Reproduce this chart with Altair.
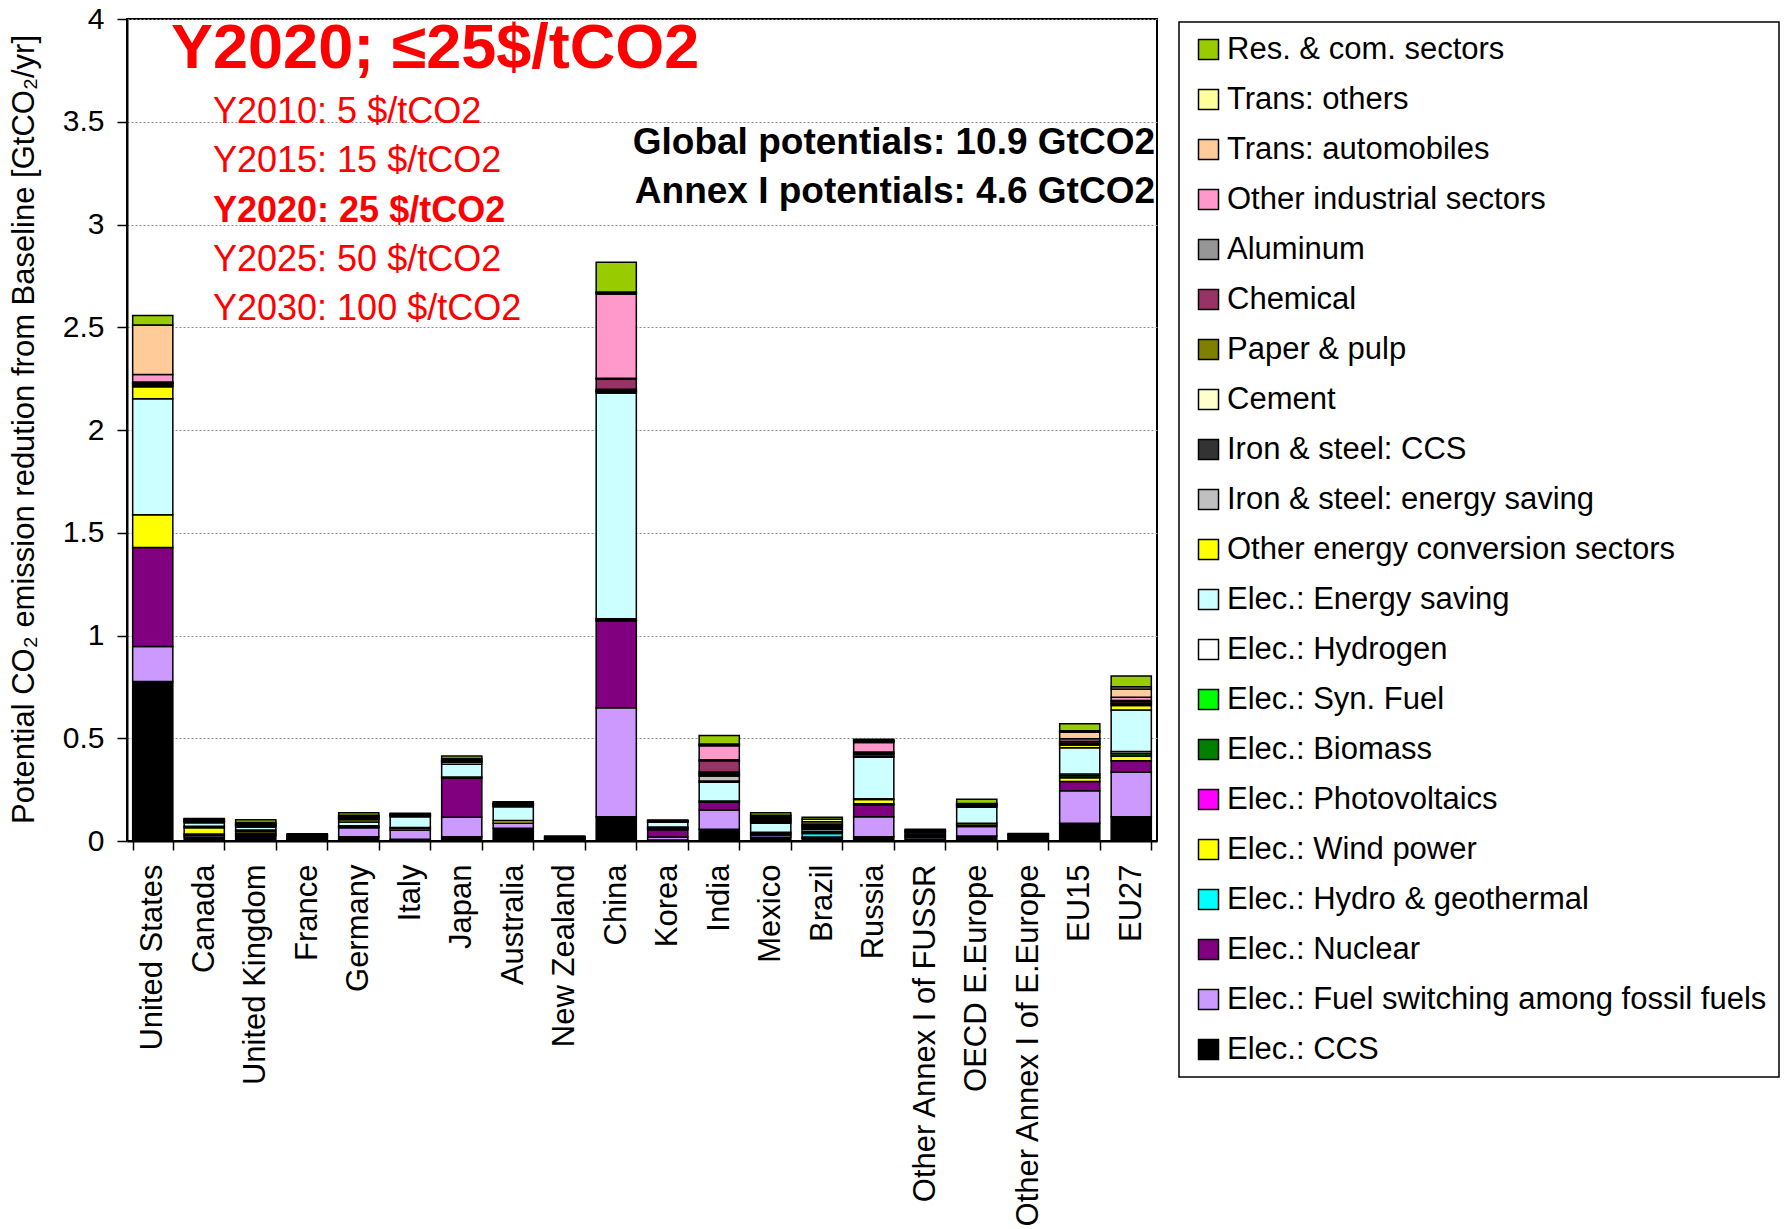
import altair as alt
import pandas as pd

# Regions along the x axis
REGIONS = [
    "United States", "Canada", "United Kingdom", "France", "Germany", "Italy",
    "Japan", "Australia", "New Zealand", "China", "Korea", "India", "Mexico",
    "Brazil", "Russia", "Other Annex I of FUSSR", "OECD E.Europe",
    "Other Annex I of E.Europe", "EU15", "EU27",
]

# Reduction potential per sector [GtCO2/yr], one value per region
elec_ccs       = [0.776, 0.020, 0.025, 0.008, 0.021, 0.008, 0.021, 0.062, 0.005, 0.118, 0.005, 0.057, 0.018, 0.012, 0.021, 0.010, 0.024, 0.008, 0.086, 0.118]
elec_fuel_sw   = [0.171, 0.008, 0.006, 0.003, 0.044, 0.046, 0.094, 0.024, 0.003, 0.531, 0.014, 0.094, 0.011, 0.004, 0.097, 0.008, 0.046, 0.005, 0.159, 0.216]
elec_nuclear   = [0.481, 0.006, 0.008, 0.004, 0.004, 0.000, 0.190, 0.000, 0.000, 0.422, 0.036, 0.037, 0.006, 0.004, 0.058, 0.005, 0.008, 0.003, 0.044, 0.056]
elec_hydro     = [0.000, 0.000, 0.000, 0.000, 0.000, 0.000, 0.000, 0.000, 0.000, 0.005, 0.000, 0.000, 0.000, 0.017, 0.005, 0.004, 0.000, 0.000, 0.000, 0.000]
elec_wind      = [0.159, 0.031, 0.008, 0.003, 0.005, 0.008, 0.006, 0.014, 0.003, 0.005, 0.004, 0.007, 0.007, 0.004, 0.021, 0.004, 0.008, 0.003, 0.019, 0.024]
elec_pv        = [0.000, 0.000, 0.000, 0.000, 0.000, 0.004, 0.000, 0.000, 0.000, 0.000, 0.000, 0.000, 0.000, 0.000, 0.000, 0.000, 0.000, 0.000, 0.000, 0.000]
elec_biomass   = [0.000, 0.004, 0.006, 0.000, 0.000, 0.000, 0.000, 0.000, 0.000, 0.000, 0.005, 0.000, 0.000, 0.006, 0.004, 0.000, 0.000, 0.000, 0.010, 0.012]
elec_synfuel   = [0.000] * 20
elec_hydrogen  = [0.000, 0.003, 0.000, 0.000, 0.000, 0.000, 0.000, 0.000, 0.000, 0.000, 0.004, 0.000, 0.000, 0.000, 0.000, 0.000, 0.000, 0.000, 0.008, 0.009]
elec_saving    = [0.565, 0.017, 0.015, 0.005, 0.019, 0.052, 0.062, 0.067, 0.004, 1.099, 0.023, 0.091, 0.044, 0.010, 0.201, 0.008, 0.078, 0.006, 0.128, 0.203]
other_energy   = [0.058, 0.005, 0.006, 0.002, 0.011, 0.005, 0.010, 0.006, 0.002, 0.006, 0.003, 0.006, 0.008, 0.006, 0.006, 0.003, 0.006, 0.002, 0.013, 0.021]
iron_saving    = [0.005, 0.002, 0.002, 0.000, 0.003, 0.000, 0.004, 0.003, 0.000, 0.004, 0.002, 0.024, 0.006, 0.006, 0.008, 0.004, 0.004, 0.003, 0.006, 0.008]
iron_ccs       = [0.008, 0.000, 0.000, 0.000, 0.000, 0.000, 0.000, 0.000, 0.000, 0.000, 0.000, 0.006, 0.000, 0.000, 0.000, 0.000, 0.000, 0.000, 0.000, 0.000]
cement         = [0.005, 0.000, 0.000, 0.000, 0.002, 0.000, 0.000, 0.000, 0.000, 0.002, 0.000, 0.008, 0.004, 0.005, 0.000, 0.000, 0.000, 0.000, 0.004, 0.004]
paper_pulp     = [0.002, 0.000, 0.000, 0.000, 0.000, 0.000, 0.000, 0.000, 0.000, 0.006, 0.000, 0.006, 0.000, 0.000, 0.000, 0.000, 0.000, 0.000, 0.000, 0.000]
chemical       = [0.003, 0.002, 0.003, 0.000, 0.004, 0.003, 0.004, 0.000, 0.000, 0.050, 0.002, 0.054, 0.004, 0.004, 0.006, 0.000, 0.003, 0.000, 0.008, 0.009]
aluminum       = [0.000, 0.000, 0.000, 0.000, 0.000, 0.000, 0.000, 0.000, 0.000, 0.004, 0.000, 0.005, 0.000, 0.000, 0.006, 0.000, 0.000, 0.000, 0.000, 0.004]
other_industry = [0.037, 0.004, 0.004, 0.003, 0.004, 0.003, 0.005, 0.004, 0.002, 0.410, 0.002, 0.069, 0.006, 0.005, 0.046, 0.004, 0.003, 0.002, 0.012, 0.016]
trans_auto     = [0.241, 0.003, 0.004, 0.003, 0.005, 0.003, 0.006, 0.004, 0.002, 0.006, 0.000, 0.004, 0.008, 0.011, 0.006, 0.003, 0.003, 0.002, 0.032, 0.040]
trans_other    = [0.000, 0.002, 0.003, 0.000, 0.003, 0.000, 0.000, 0.000, 0.000, 0.004, 0.000, 0.004, 0.003, 0.012, 0.005, 0.000, 0.000, 0.000, 0.008, 0.011]
res_com        = [0.046, 0.003, 0.014, 0.004, 0.013, 0.003, 0.012, 0.007, 0.003, 0.144, 0.002, 0.041, 0.013, 0.009, 0.005, 0.004, 0.020, 0.003, 0.033, 0.052]

# Sectors from the bottom of each stack to the top, with their fill colours
STACK = [
    ("Elec.: CCS", "#000000", elec_ccs),
    ("Elec.: Fuel switching among fossil fuels", "#CC99FF", elec_fuel_sw),
    ("Elec.: Nuclear", "#800080", elec_nuclear),
    ("Elec.: Hydro & geothermal", "#00FFFF", elec_hydro),
    ("Elec.: Wind power", "#FFFF00", elec_wind),
    ("Elec.: Photovoltaics", "#FF00FF", elec_pv),
    ("Elec.: Biomass", "#008000", elec_biomass),
    ("Elec.: Syn. Fuel", "#00FF00", elec_synfuel),
    ("Elec.: Hydrogen", "#FFFFFF", elec_hydrogen),
    ("Elec.: Energy saving", "#CCFFFF", elec_saving),
    ("Other energy conversion sectors", "#FFFF00", other_energy),
    ("Iron & steel: energy saving", "#C0C0C0", iron_saving),
    ("Iron & steel: CCS", "#333333", iron_ccs),
    ("Cement", "#FFFFCC", cement),
    ("Paper & pulp", "#808000", paper_pulp),
    ("Chemical", "#993366", chemical),
    ("Aluminum", "#969696", aluminum),
    ("Other industrial sectors", "#FF99CC", other_industry),
    ("Trans: automobiles", "#FFCC99", trans_auto),
    ("Trans: others", "#FFFF99", trans_other),
    ("Res. & com. sectors", "#99CC00", res_com),
]

HEADLINE = "Y2020; \u226425$/tCO2"
PRICE_PATH = [
    "Y2010: 5 $/tCO2",
    "Y2015: 15 $/tCO2",
    "Y2020: 25 $/tCO2",
    "Y2025: 50 $/tCO2",
    "Y2030: 100 $/tCO2",
]
TOTALS = [
    "Global potentials: 10.9 GtCO2",
    "Annex I potentials: 4.6 GtCO2",
]
Y_TITLE = "Potential CO\u2082 emission redution from Baseline [GtCO\u2082/yr]"

FONT = "Liberation Sans"

rows = []
for pos, (sector, _, vals) in enumerate(STACK):
    for region, v in zip(REGIONS, vals):
        if v > 0:
            rows.append({"region": region, "sector": sector, "value": v, "stack_pos": pos})
df = pd.DataFrame(rows)

legend_domain = [s for s, _, _ in STACK][::-1]
legend_range = [c for _, c, _ in STACK][::-1]

bars = alt.Chart(df).mark_bar(stroke="black", strokeWidth=1.5).encode(
    x=alt.X(
        "region:N",
        sort=REGIONS,
        scale=alt.Scale(paddingInner=0.22, paddingOuter=0.11),
        axis=alt.Axis(
            title=None, labelAngle=270, labelAlign="right", labelBaseline="middle",
            labelFontSize=31, labelFont=FONT, labelColor="black", labelPadding=14,
            labelLimit=800, labelOverlap=False, tickBand="extent", tickSize=9,
            tickColor="black", tickWidth=1.5, domainColor="black", domainWidth=2,
        ),
    ),
    y=alt.Y(
        "value:Q",
        stack="zero",
        scale=alt.Scale(domain=[0, 4], nice=False),
        axis=alt.Axis(
            values=[0, 0.5, 1, 1.5, 2, 2.5, 3, 3.5, 4], format="~g",
            labelFontSize=30, labelFont=FONT, labelColor="black", labelPadding=13,
            labelOverlap=False, tickSize=10, tickColor="black", tickWidth=1.5,
            domainColor="black", domainWidth=2, grid=True, gridColor="#8c8c8c",
            gridDash=[2, 2], gridWidth=1, title=Y_TITLE, titleFont=FONT,
            titleFontSize=31, titleFontWeight="normal", titleColor="black",
            titleAngle=270, titleX=-103, titleY=410, titleAlign="center",
            titleBaseline="middle",
        ),
    ),
    color=alt.Color(
        "sector:N",
        scale=alt.Scale(domain=legend_domain, range=legend_range),
        legend=alt.Legend(
            orient="none", legendX=1052, legendY=3, title=None,
            symbolType="square", symbolSize=400, symbolStrokeColor="black",
            symbolStrokeWidth=1.5, symbolOpacity=1, labelFontSize=31,
            labelFont=FONT, labelColor="black", labelLimit=800, padding=12,
            symbolOffset=2, labelOffset=3, rowPadding=18, strokeColor="black",
            fillColor="white",
        ),
    ),
    order=alt.Order("stack_pos:Q", sort="ascending"),
)

def note(text, x, y, size, bold=False, color="black", align="left"):
    return alt.Chart(pd.DataFrame({"note": [text]})).mark_text(
        font=FONT, fontSize=size, fontWeight="bold" if bold else "normal",
        color=color, align=align, baseline="alphabetic",
    ).encode(text="note:N", x=alt.value(x), y=alt.value(y))

layers = [bars, note(HEADLINE, 44, 49, 63, bold=True, color="#FF0000")]
for i, line in enumerate(PRICE_PATH):
    layers.append(note(line, 86, 104 + 49.3 * i, 36, bold=(i == 2), color="#FF0000"))
for i, line in enumerate(TOTALS):
    layers.append(note(line, 1028, 135 + 49 * i, 37, bold=True, align="right"))

chart = alt.layer(*layers).properties(
    width=1030,
    height=822,
    autosize=alt.AutoSizeParams(type="none"),
    padding={"left": 127, "top": 19, "right": 630, "bottom": 388},
    background="white",
).configure_view(
    stroke="black", strokeWidth=2
).configure_legend(
    strokeWidth=1.5
)

chart.save("out.html", embed_options={"renderer": "svg", "actions": False})
